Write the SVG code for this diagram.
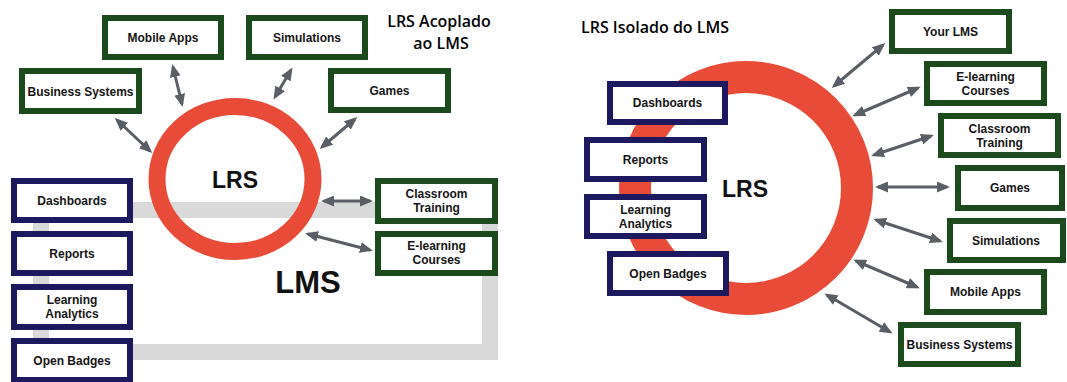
<svg xmlns="http://www.w3.org/2000/svg" width="1067" height="382" viewBox="0 0 1067 382">
  <style>
    .sys rect { fill: #ffffff; stroke: #1b4a1c; stroke-width: 6; }
    .ana rect { fill: #ffffff; stroke: #1c195e; stroke-width: 6; }
    .lbl { font-family: "Liberation Sans", Arial, sans-serif; font-weight: bold; font-size: 12px; fill: #151515; text-anchor: middle; }
    .title { font-family: "Open Sans", "Liberation Sans", sans-serif; font-weight: 600; font-size: 16px; fill: #000; text-anchor: middle; }
    .big { font-family: "Liberation Sans", Arial, sans-serif; font-weight: bold; fill: #111; text-anchor: middle; }
    .ring { fill: none; stroke: #e84b37; }
    .conn line { stroke: #5a5f66; stroke-width: 3; marker-start: url(#head); marker-end: url(#head); }
  </style>
  <defs>
    <marker id="head" markerUnits="userSpaceOnUse" markerWidth="13" markerHeight="11" refX="10" refY="5.5" orient="auto-start-reverse">
      <path d="M0,0 L13,5.5 L0,11 z" fill="#5a5f66"/>
    </marker>
  </defs>

  <!-- ===== Left: LRS coupled to the LMS ===== -->
  <rect id="lms-frame" x="41" y="210" width="449" height="142" fill="none" stroke="#d9d9d9" stroke-width="16"/>
  <ellipse id="lrs-left" class="ring" cx="235" cy="179" rx="78" ry="72.5" stroke-width="17"/>
  <text class="big" x="235" y="188" font-size="23">LRS</text>
  <text class="big" x="308" y="293" font-size="31">LMS</text>
  <text class="title" x="439" y="27">LRS Acoplado</text>
  <text class="title" x="441" y="49">ao LMS</text>

  <g id="l-mobile" class="sys"><rect x="105" y="18" width="116" height="39"/><text class="lbl" x="163" y="42">Mobile Apps</text></g>
  <g id="l-sim" class="sys"><rect x="249" y="18" width="116" height="39"/><text class="lbl" x="307" y="42">Simulations</text></g>
  <g id="l-business" class="sys"><rect x="22" y="71" width="117" height="40"/><text class="lbl" x="80.5" y="95.5">Business Systems</text></g>
  <g id="l-games" class="sys"><rect x="331" y="71" width="117" height="39"/><text class="lbl" x="389.5" y="95">Games</text></g>
  <g id="l-classroom" class="sys"><rect x="378" y="181" width="117" height="40"/><text class="lbl" x="436.5" y="198">Classroom</text><text class="lbl" x="436.5" y="212">Training</text></g>
  <g id="l-elearning" class="sys"><rect x="378" y="234" width="117" height="39"/><text class="lbl" x="436.5" y="250">E-learning</text><text class="lbl" x="436.5" y="264">Courses</text></g>

  <g id="l-dashboards" class="ana"><rect x="14" y="181" width="116" height="39"/><text class="lbl" x="72" y="205">Dashboards</text></g>
  <g id="l-reports" class="ana"><rect x="14" y="234" width="116" height="39"/><text class="lbl" x="72" y="258">Reports</text></g>
  <g id="l-analytics" class="ana"><rect x="14" y="287" width="116" height="40"/><text class="lbl" x="72" y="304">Learning</text><text class="lbl" x="72" y="318">Analytics</text></g>
  <g id="l-badges" class="ana"><rect x="14" y="341" width="116" height="39"/><text class="lbl" x="72" y="365">Open Badges</text></g>

  <!-- ===== Right: LRS isolated from the LMS ===== -->
  <circle id="lrs-right" class="ring" cx="746" cy="188" r="111" stroke-width="32"/>
  <text class="big" x="745" y="197" font-size="23">LRS</text>
  <text class="title" x="655" y="33">LRS Isolado do LMS</text>

  <g id="r-dashboards" class="ana"><rect x="610" y="84" width="115" height="38"/><text class="lbl" x="667.5" y="107">Dashboards</text></g>
  <g id="r-reports" class="ana"><rect x="587" y="140" width="117" height="39"/><text class="lbl" x="645.5" y="164">Reports</text></g>
  <g id="r-analytics" class="ana"><rect x="587" y="197" width="117" height="39"/><text class="lbl" x="645.5" y="214">Learning</text><text class="lbl" x="645.5" y="228">Analytics</text></g>
  <g id="r-badges" class="ana"><rect x="610" y="254" width="116" height="39"/><text class="lbl" x="668" y="278">Open Badges</text></g>

  <g id="r-lms" class="sys"><rect x="892" y="12" width="117" height="39"/><text class="lbl" x="950.5" y="36">Your LMS</text></g>
  <g id="r-elearning" class="sys"><rect x="927" y="64" width="117" height="39"/><text class="lbl" x="985.5" y="81">E-learning</text><text class="lbl" x="985.5" y="95">Courses</text></g>
  <g id="r-classroom" class="sys"><rect x="941" y="116" width="117" height="39"/><text class="lbl" x="999.5" y="133">Classroom</text><text class="lbl" x="999.5" y="147">Training</text></g>
  <g id="r-games" class="sys"><rect x="958" y="168" width="104" height="40"/><text class="lbl" x="1010" y="192">Games</text></g>
  <g id="r-sim" class="sys"><rect x="950" y="221" width="113" height="39"/><text class="lbl" x="1006" y="245">Simulations</text></g>
  <g id="r-mobile" class="sys"><rect x="927" y="272" width="117" height="40"/><text class="lbl" x="985.5" y="296">Mobile Apps</text></g>
  <g id="r-business" class="sys"><rect x="901" y="325" width="117" height="39"/><text class="lbl" x="959.5" y="349">Business Systems</text></g>

  <!-- ===== Connectors ===== -->
  <g id="connectors" class="conn">
    <line x1="117" y1="120" x2="150" y2="151"/>
    <line x1="173" y1="67" x2="182" y2="104"/>
    <line x1="291" y1="70" x2="275" y2="97"/>
    <line x1="355" y1="119" x2="322" y2="147"/>
    <line x1="324" y1="201" x2="370" y2="201"/>
    <line x1="308" y1="234" x2="370" y2="250"/>

    <line x1="834" y1="86" x2="883" y2="45"/>
    <line x1="855" y1="115" x2="918" y2="88"/>
    <line x1="874" y1="155" x2="931" y2="136"/>
    <line x1="878" y1="187" x2="947" y2="187"/>
    <line x1="876" y1="220" x2="940" y2="241"/>
    <line x1="856" y1="261" x2="917" y2="287"/>
    <line x1="827" y1="295" x2="890" y2="332"/>
  </g>
</svg>
